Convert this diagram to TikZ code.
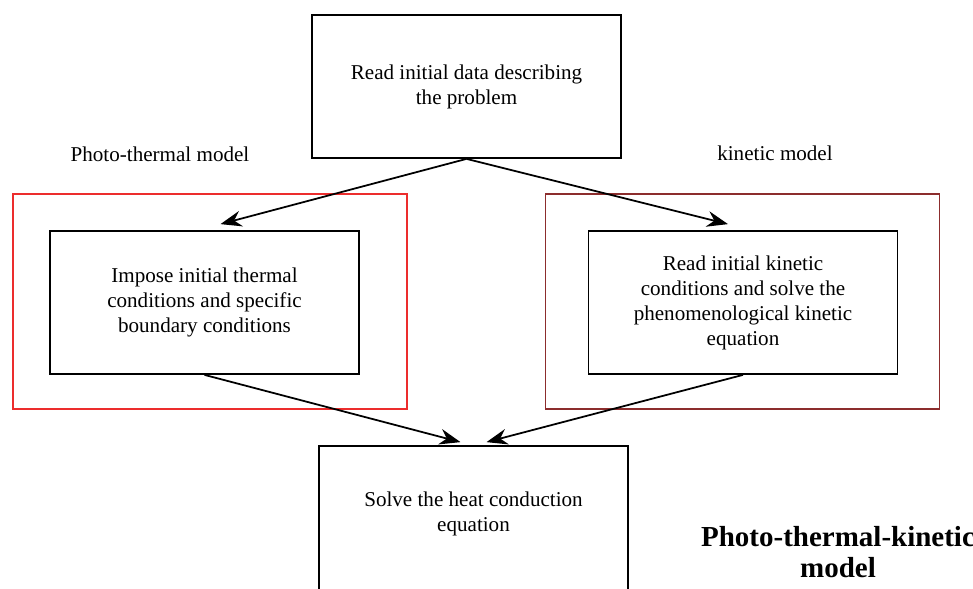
\documentclass[tikz,border=0pt]{standalone}
\usepackage{fontspec}
\setmainfont{Liberation Serif}
\usetikzlibrary{positioning, calc, arrows.meta}

\definecolor{ptred}{RGB}{236,45,45}
\definecolor{kinred}{RGB}{140,45,45}

\tikzset{
  stepbox/.style={draw, line width=1pt, minimum width=61.8mm, minimum height=28.6mm,
    inner sep=0pt, align=center, font=\fontsize{12}{14.2}\selectfont},
  modelframe/.style={draw, line width=1pt, minimum width=78.8mm, minimum height=43mm, inner sep=0pt},
  flow/.style={line width=1pt, -{Stealth[length=12pt, width=9pt, inset=4pt]}}
}

\begin{document}
\begin{tikzpicture}[x=0.2mm, y=-0.2mm]
            \useasboundingbox (0,0) rectangle (973,588);
            \node[modelframe, draw=ptred] (ptframe) at (210,301.5) {};
            \node[modelframe, draw=kinred] (kinframe) at (742.5,301.5) {};
            \node[stepbox] (readdata) at (466.5,86.5) {Read initial data describing\\the problem};
            \node[stepbox] (thermal) at (204.5,302.5) {Impose initial thermal\\conditions and specific\\boundary conditions};
            \node[stepbox] (kinetic) at (743,302.5) {Read initial kinetic\\conditions and solve the\\phenomenological kinetic\\equation};
            \node[stepbox, minimum height=30mm] (heat) at (473.5,521) {Solve the heat conduction\\equation\\[-4pt]};
            \node[font=\fontsize{12}{14.2}\selectfont] (ptlabel) at (160,154) {Photo-thermal model};
            \node[font=\fontsize{12}{14.2}\selectfont] (kinlabel) at (775,153) {kinetic model};
            \node[font=\fontsize{16.5}{17.6}\selectfont\bfseries, align=center] (title) at (838,552) {Photo-thermal-kinetic\\model};
            \draw[flow] (readdata.south) -- ([shift={(16,-6)}]thermal.north);
            \draw[flow] (readdata.south) -- ([shift={(-15,-6)}]kinetic.north);
            \draw[flow] (thermal.south) -- ([shift={(-13,-3)}]heat.north);
            \draw[flow] (kinetic.south) -- ([shift={(13,-3)}]heat.north);
          \end{tikzpicture}
\end{document}
